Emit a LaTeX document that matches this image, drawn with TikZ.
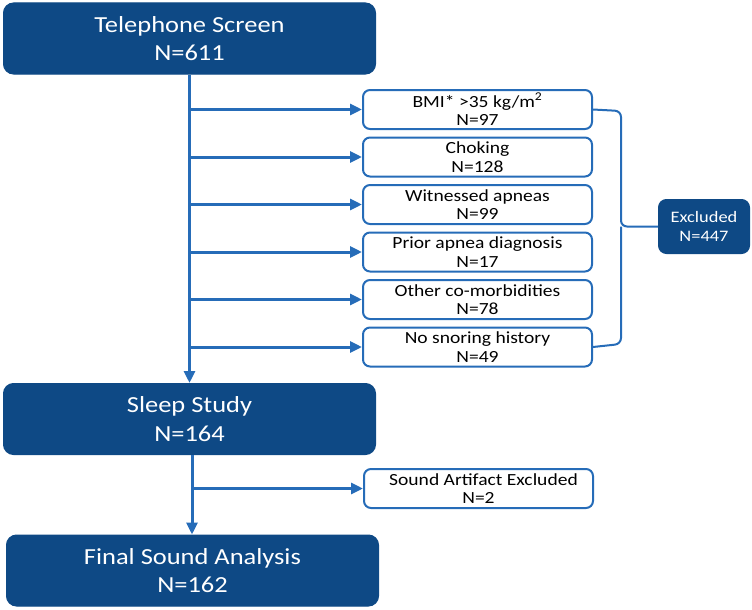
\documentclass[tikz,border=0pt]{standalone}
\usepackage{fontspec}
\setmainfont[FakeStretch=1.15]{Carlito}
\usetikzlibrary{arrows.meta}
\definecolor{dkblue}{RGB}{14,73,133}
\definecolor{lnblue}{RGB}{38,108,184}
\begin{document}
\begin{tikzpicture}[x=1pt,y=-1pt,
  big/.style={draw=dkblue, fill=dkblue, rounded corners=10pt, text=white,
    font=\fontsize{23}{28.5}\selectfont, align=center, minimum width=372pt,
    minimum height=71pt, inner sep=0pt, line width=1pt},
  small/.style={draw=lnblue, line width=2pt, fill=white, rounded corners=7pt,
    font=\fontsize{17}{18.5}\selectfont, align=center, minimum width=229pt,
    minimum height=39pt, inner sep=0pt},
  excl/.style={draw=dkblue, fill=dkblue, rounded corners=8pt, text=white,
    font=\fontsize{16}{19}\selectfont, align=center, minimum width=91pt,
    minimum height=54pt, inner sep=0pt, line width=1pt},
  conn/.style={draw=lnblue, line width=3pt, -{Triangle[length=12pt,width=11pt]}},
  brace/.style={draw=lnblue, line width=2pt, rounded corners=6pt}]
\useasboundingbox (0,0) rectangle (752,610);

\node[big] (tel) at (189.5,38.5) {Telephone Screen\\N=611};
\node[big] (sleep) at (189.5,419) {Sleep Study\\N=164};
\node[big] (final) at (192.5,570.5) {Final Sound Analysis\\N=162};

\node[small] (bmi) at (477.5,109.5) {BMI* >35 kg/m\textsuperscript{2}\\N=97};
\node[small] (cho) at (477.5,157) {Choking\\N=128};
\node[small] (wit) at (477.5,204.5) {Witnessed apneas\\N=99};
\node[small] (pri) at (477.5,252) {Prior apnea diagnosis\\N=17};
\node[small] (oth) at (477.5,299.5) {Other co-morbidities\\N=78};
\node[small] (nos) at (477.5,347) {No snoring history\\N=49};
\node[small] (snd) at (478.5,488.5) {\hspace*{10pt}Sound Artifact Excluded\\N=2};

\node[excl] (ex) at (704,226.5) {Excluded\\N=447};

% trunk
\draw[conn] (tel.south) -- (sleep.north);
\foreach \b in {bmi,cho,wit,pri,oth,nos}
  \draw[conn] (tel.south |- \b.west) -- (\b.west);

\coordinate (t2) at (192,455);
\draw[conn] (t2) -- (t2 |- final.north);
\draw[conn] (t2 |- snd.west) -- (snd.west);

% brace
\coordinate (bt) at (621,226.5);
\draw[brace] (bmi.east) -- (621,111) -- (621,226.5) -- (ex.west);
\draw[brace] (nos.east) -- (621,344) -- (bt);
\end{tikzpicture}
\end{document}
